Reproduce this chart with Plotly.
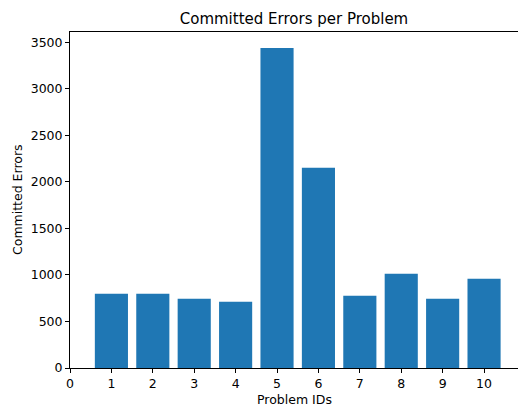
import plotly.graph_objects as go

problem_ids = [1, 2, 3, 4, 5, 6, 7, 8, 9, 10]
committed_errors = [798, 798, 744, 712, 3439, 2151, 776, 1013, 744, 959]
x_ticks = [0, 1, 2, 3, 4, 5, 6, 7, 8, 9, 10]
y_ticks = [0, 500, 1000, 1500, 2000, 2500, 3000, 3500]

FONT = "DejaVu Sans"
TICK_SIZE = 12.5

fig = go.Figure(go.Bar(
    x=problem_ids, y=committed_errors, width=0.8,
    marker=dict(color="#1f77b4", line=dict(width=0)),
))

fig.update_layout(
    width=518, height=408,
    margin=dict(l=70, r=0, t=32, b=40),
    plot_bgcolor="white", paper_bgcolor="white",
    font=dict(family=FONT, size=TICK_SIZE, color="black"),
    showlegend=False,
    title=dict(text="Committed Errors per Problem", x=0.5, xref="paper", xanchor="center",
               y=1 - 19 / 408, yref="container", yanchor="middle",
               font=dict(family=FONT, size=15, color="black")),
    xaxis=dict(range=[0, 10.82], tickmode="array", tickvals=x_ticks,
               showgrid=False, zeroline=False, showline=True, linecolor="black", linewidth=1,
               mirror=True, ticks="outside", ticklen=4, tickcolor="black", tickwidth=1,
               tickfont=dict(family=FONT, size=TICK_SIZE, color="black")),
    yaxis=dict(range=[0, 3611], tickmode="array", tickvals=y_ticks,
               showgrid=False, zeroline=False, showline=True, linecolor="black", linewidth=1,
               ticks="outside", ticklen=4, tickcolor="black", tickwidth=1,
               tickfont=dict(family=FONT, size=TICK_SIZE, color="black")),
    annotations=[
        dict(text="Problem IDs", xref="paper", yref="paper", x=0.5, y=0, yshift=-31,
             xanchor="center", yanchor="middle", showarrow=False,
             font=dict(family=FONT, size=TICK_SIZE, color="black")),
        dict(text="Committed Errors", xref="paper", yref="paper", x=0, y=0.5, xshift=-53,
             xanchor="center", yanchor="middle", textangle=-90, showarrow=False,
             font=dict(family=FONT, size=TICK_SIZE, color="black")),
    ],
)

fig.write_html("out.html")
